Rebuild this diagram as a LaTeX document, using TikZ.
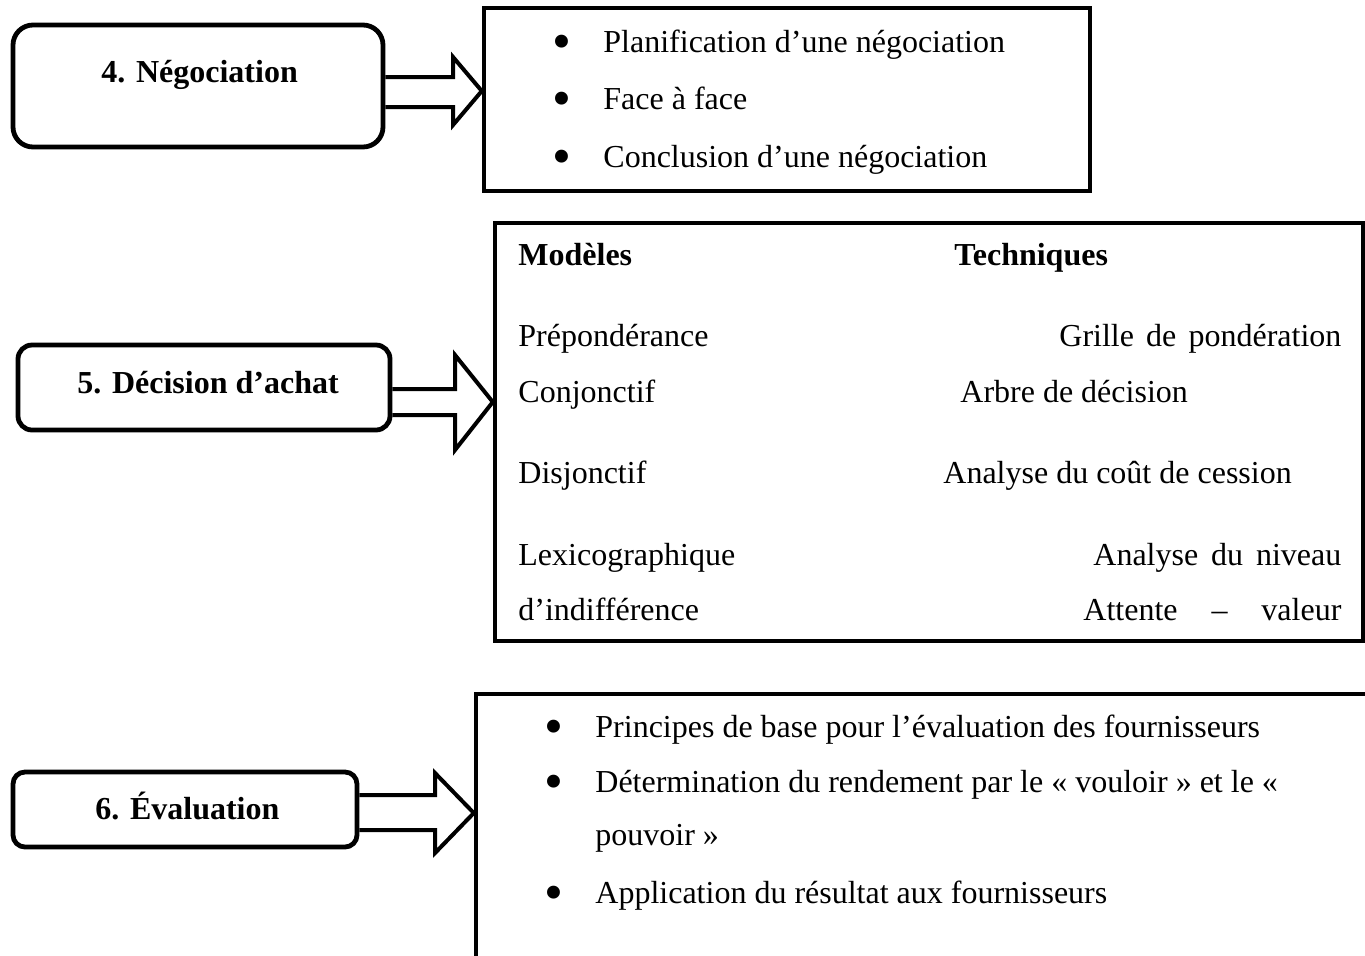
\documentclass[tikz,border=0pt]{standalone}
\usepackage{fontspec}
\setmainfont{Liberation Serif}
\usetikzlibrary{fit,calc}

\newcommand{\bodysize}{\fontsize{16}{19}\selectfont}

\tikzset{
  stage/.style={draw, line width=2.4pt, inner sep=0pt},
  listbox/.style={draw, line width=2.2pt, inner sep=0pt},
  blockarrow/.style={draw, line width=2pt, line join=miter},
  item/.style={anchor=base west, inner sep=0pt, font=\bodysize},
  dot/.style={anchor=base, inner sep=0pt, yshift=-3.5pt, font=\fontsize{27}{30}\selectfont},
  title/.style={anchor=base west, inner sep=0pt, font=\bodysize\bfseries},
}

\begin{document}
\begin{tikzpicture}[x=0.5pt, y=-0.5pt]
            \useasboundingbox (0,0) rectangle (1365,955);
            \clip (0,0) rectangle (1365,955);
            % Stages
            \node[stage, rounded corners=10pt, fit={(13,25) (383,147)}] (neg) {};
            \node[stage, rounded corners=7pt, fit={(18,345) (390,430)}] (dec) {};
            \node[stage, rounded corners=6pt, fit={(13,772) (357,847)}] (eval) {};
            \node[title] (negtitle) at (101,82) {4. Négociation};
            \node[title] (dectitle) at (77,393) {5. Décision d’achat};
            \node[title] (evaltitle) at (95,819) {6. Évaluation};
            % Content boxes
            \node[listbox, fit={(484,8) (1090,191)}] (negbox) {};
            \node[listbox, fit={(495,223) (1363,641)}] (decbox) {};
            \node[listbox, fit={(476,694) (1420,1010)}] (evalbox) {};
            % Block arrows
            \draw[blockarrow] (neg.east |- 0,77) -- (453,77) -- (453,57) -- (negbox.west |- 0,91)
              -- (453,125) -- (453,107) -- (neg.east |- 0,107);
            \draw[blockarrow] (dec.east |- 0,389) -- (455,389) -- (455,355) -- (decbox.west |- 0,402)
              -- (455,450) -- (455,415) -- (dec.east |- 0,415);
            \draw[blockarrow] (eval.east |- 0,795) -- (435,795) -- (435,773) -- (evalbox.west |- 0,813)
              -- (435,853) -- (435,830) -- (eval.east |- 0,830);
            % Negociation
            \node[dot] (nb1) at (562,52) {•};
            \node[item] (n1) at (603,52) {Planification d’une négociation};
            \node[dot] (nb2) at (562,109) {•};
            \node[item] (n2) at (603,109) {Face à face};
            \node[dot] (nb3) at (562,167) {•};
            \node[item] (n3) at (603,167) {Conclusion d’une négociation};
            % Decision
            \node[title] (mhead) at (518,265) {Modèles};
            \node[title] (thead) at (954,265) {Techniques};
            \node[item] (m1) at (518,346) {Prépondérance};
            \node[item] (t1) at (1059,346) {\makebox[141pt][s]{Grille de pondération}};
            \node[item] (m2) at (518,402) {Conjonctif};
            \node[item] (t2) at (960,402) {Arbre de décision};
            \node[item] (m3) at (518,483) {Disjonctif};
            \node[item] (t3) at (943,483) {Analyse du coût de cession};
            \node[item] (m4) at (518,565) {Lexicographique};
            \node[item] (t4) at (1093,565) {\makebox[124pt][s]{Analyse du niveau}};
            \node[item] (m5) at (518,620) {d’indifférence};
            \node[item] (t5) at (1083,620) {\makebox[129pt][s]{Attente – valeur}};
            % Evaluation
            \node[dot] (eb1) at (554,737) {•};
            \node[item] (e1) at (595,737) {Principes de base pour l’évaluation des fournisseurs};
            \node[dot] (eb2) at (554,792) {•};
            \node[item] (e2) at (595,792) {Détermination du rendement par le « vouloir » et le «};
            \node[item] (e2b) at (595,845) {pouvoir »};
            \node[dot] (eb3) at (554,903) {•};
            \node[item] (e3) at (595,903) {Application du résultat aux fournisseurs};
          \end{tikzpicture}
\end{document}
